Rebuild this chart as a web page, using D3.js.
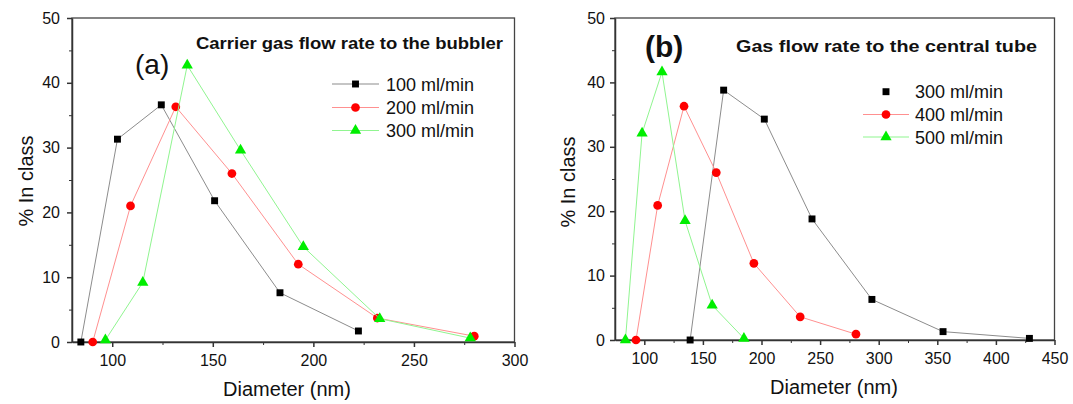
<!DOCTYPE html>
<html>
<head>
<meta charset="utf-8">
<script src="https://cdnjs.cloudflare.com/ajax/libs/d3/7.8.5/d3.min.js"></script>
<style>
  body { margin: 0; background: #fff; }
  svg { display: block; font-family: "Liberation Sans", Arial, sans-serif; }
  .axis path, .axis line { stroke: #333; }
  .axis text { font-size: 16px; fill: #111; }
</style>
</head>
<body>
<div id="chart"></div>
<script>
// panel (a): carrier gas flow rate to the bubbler
var diamA100 = [84.4, 102.6, 124.4, 150.9, 183.4, 222.4];
var pctA100  = [0, 31.3, 36.6, 21.8, 7.6, 1.7];
var diamA200 = [90.3, 109.1, 131.6, 159.5, 192.5, 231.8, 280];
var pctA200  = [0, 21.0, 36.3, 26.0, 12.0, 3.7, 0.9];
var diamA300 = [96.6, 115.2, 137.3, 163.8, 195.0, 233, 278];
var pctA300  = [0.3, 9.2, 42.7, 29.6, 14.7, 3.6, 0.6];

// panel (b): gas flow rate to the central tube
var diamB300 = [139.1, 167.7, 202.4, 243.1, 294.2, 354.9, 428.6];
var pctB300  = [0, 38.8, 34.3, 18.8, 6.3, 1.3, 0.25];
var diamB400 = [92.9, 111.4, 133.9, 161.4, 193.5, 233.0, 280.6];
var pctB400  = [0, 20.9, 36.3, 26.0, 11.9, 3.6, 0.9];
var diamB500 = [83.9, 98.1, 115.1, 134.8, 157.9, 185.0];
var pctB500  = [0, 32.1, 41.6, 18.5, 5.4, 0.25];

var legendA = ["100 ml/min", "200 ml/min", "300 ml/min"];
var legendB = ["300 ml/min", "400 ml/min", "500 ml/min"];
var yTicks = [0, 10, 20, 30, 40, 50];
var xTicksA = [100, 150, 200, 250, 300];
var xTicksB = [100, 150, 200, 250, 300, 350, 400, 450];

var svg = d3.select("#chart").append("svg")
    .attr("width", 1073)
    .attr("height", 404);

var styles = [
    {line: "#8c8c8c", fill: "#000", shape: d3.symbolSquare, size: 48},
    {line: "#ff9090", fill: "#ff0000", shape: d3.symbolCircle, size: 60},
    {line: "#90f590", fill: "#00ee00", shape: d3.symbolTriangle, size: 55}
];

function zip(xs, ys) {
    return xs.map(function(d, i) { return {x: d, y: ys[i]}; });
}

function drawPanel(p) {
    var x = d3.scaleLinear().domain(p.xDomain).range(p.xRange);
    var y = d3.scaleLinear().domain([0, 50]).range(p.yRange);
    var g = svg.append("g");

    // frame (top + right)
    g.append("rect")
        .attr("x", p.xRange[0]).attr("y", p.yRange[1])
        .attr("width", p.xRange[1] - p.xRange[0])
        .attr("height", p.yRange[0] - p.yRange[1])
        .attr("fill", "none").attr("stroke", "#444").attr("stroke-width", 1.3);

    // minor ticks
    g.append("g").attr("class", "axis")
        .attr("transform", "translate(0," + p.yRange[0] + ")")
        .call(d3.axisBottom(x).tickValues(p.xTicks.slice(0, -1).map(function(d) { return d + 25; }))
            .tickSize(3).tickFormat(""))
        .select(".domain").remove();
    g.append("g").attr("class", "axis")
        .attr("transform", "translate(" + p.xRange[0] + ",0)")
        .call(d3.axisLeft(y).tickValues([5, 15, 25, 35, 45]).tickSize(3).tickFormat(""))
        .select(".domain").remove();

    // major axes
    g.append("g").attr("class", "axis")
        .attr("transform", "translate(0," + p.yRange[0] + ")")
        .call(d3.axisBottom(x).tickValues(p.xTicks).tickSize(5).tickSizeOuter(0).tickPadding(8))
        .selectAll("path, line").attr("stroke-width", 1.5);
    g.append("g").attr("class", "axis")
        .attr("transform", "translate(" + p.xRange[0] + ",0)")
        .call(d3.axisLeft(y).tickValues(yTicks).tickSize(5).tickSizeOuter(0).tickPadding(p.yPad))
        .selectAll("path, line").attr("stroke-width", 1.5);

    // series
    var line = d3.line().x(function(d) { return x(d.x); }).y(function(d) { return y(d.y); });
    p.series.forEach(function(s, i) {
        var st = styles[i];
        var pts = zip(s[0], s[1]);
        g.append("path").datum(pts)
            .attr("d", line)
            .attr("fill", "none")
            .attr("stroke", st.line)
            .attr("stroke-width", 1);
        g.selectAll(null).data(pts).enter().append("path")
            .attr("transform", function(d) { return "translate(" + x(d.x) + "," + y(d.y) + ")"; })
            .attr("d", d3.symbol().type(st.shape).size(st.size))
            .attr("fill", st.fill);
    });

    // legend
    p.legend.forEach(function(t, i) {
        var st = styles[i];
        var cy = p.legRows[i];
        if (!(p.noLineFirst && i === 0)) {
            g.append("line")
                .attr("x1", p.legLine[0]).attr("x2", p.legLine[1])
                .attr("y1", cy).attr("y2", cy)
                .attr("stroke", st.line).attr("stroke-width", 1.2);
        }
        g.append("path")
            .attr("transform", "translate(" + ((p.legLine[0] + p.legLine[1]) / 2) + "," + cy + ")")
            .attr("d", d3.symbol().type(st.shape).size(st.size))
            .attr("fill", st.fill);
        g.append("text")
            .attr("x", p.legText).attr("y", cy + 6.5)
            .attr("font-size", 18).attr("fill", "#111")
            .text(t);
    });

    // title + panel label
    g.append("text")
        .attr("x", p.title.x).attr("y", p.title.y)
        .attr("font-size", 16).attr("font-weight", "bold").attr("fill", "#111")
        .attr("textLength", p.title.w).attr("lengthAdjust", "spacingAndGlyphs")
        .text(p.title.text);
    g.append("text")
        .attr("x", p.label.x).attr("y", p.label.y)
        .attr("font-size", p.label.size).attr("font-weight", p.label.weight)
        .attr("fill", "#111")
        .text(p.label.text);

    // axis titles
    g.append("text")
        .attr("x", p.xTitle[0]).attr("y", p.xTitle[1])
        .attr("text-anchor", "middle").attr("font-size", 20).attr("fill", "#111")
        .text("Diameter (nm)");
    g.append("text")
        .attr("transform", "translate(" + p.yTitle[0] + "," + p.yTitle[1] + ") rotate(-90)")
        .attr("text-anchor", "middle").attr("font-size", 20).attr("fill", "#111")
        .text("% In class");
}

drawPanel({
    xDomain: [80, 300], xRange: [72, 514.5], yRange: [342, 18], yPad: 7,
    xTicks: xTicksA,
    series: [[diamA100, pctA100], [diamA200, pctA200], [diamA300, pctA300]],
    legend: legendA, legRows: [84, 107.5, 130.5], legLine: [332, 379], legText: 386,
    noLineFirst: false,
    title: {text: "Carrier gas flow rate to the bubbler", x: 196, y: 49, w: 307},
    label: {text: "(a)", x: 135, y: 74, size: 28, weight: "normal"},
    xTitle: [287, 396], yTitle: [33, 181]
});

drawPanel({
    xDomain: [75, 450], xRange: [615, 1054.5], yRange: [340, 18], yPad: 5,
    xTicks: xTicksB,
    series: [[diamB300, pctB300], [diamB400, pctB400], [diamB500, pctB500]],
    legend: legendB, legRows: [91.7, 114.5, 137], legLine: [863, 909], legText: 915,
    noLineFirst: true,
    title: {text: "Gas flow rate to the central tube", x: 736, y: 52, w: 301},
    label: {text: "(b)", x: 645, y: 57, size: 30, weight: "bold"},
    xTitle: [834, 394], yTitle: [575, 182]
});
</script>
</body>
</html>
